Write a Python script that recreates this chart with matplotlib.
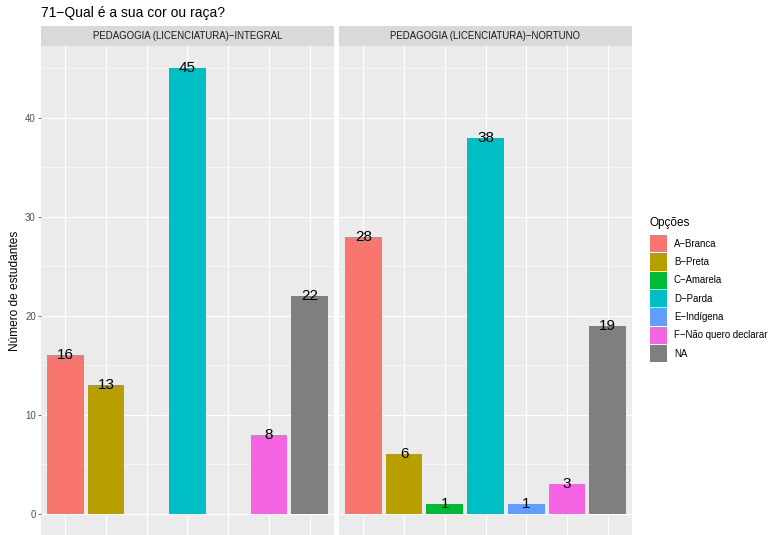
import matplotlib
matplotlib.use("Agg")
import matplotlib.pyplot as plt
from matplotlib.patches import Rectangle

plt.rcParams['font.family'] = ['Liberation Sans', 'DejaVu Sans']

# Dados
opcoes = ["A−Branca", "B−Preta", "C−Amarela", "D−Parda", "E−Indígena",
          "F−Não quero declarar", "NA"]
cores = ["#F8766D", "#B79F00", "#00BA38", "#00BFC4", "#619CFF", "#F564E3", "#7F7F7F"]
cursos = ["PEDAGOGIA (LICENCIATURA)−INTEGRAL", "PEDAGOGIA (LICENCIATURA)−NORTUNO"]
integral = [16, 13, None, 45, None, 8, 22]
noturno = [28, 6, 1, 38, 1, 3, 19]
valores = [integral, noturno]

W, H = 771, 535
fig = plt.figure(figsize=(W / 100, H / 100), dpi=100)


def caixa(x0, y0, x1, y1):
    # pixels (origem no topo) -> coordenadas da figura
    return [x0 / W, (H - y1) / H, (x1 - x0) / W, (y1 - y0) / H]


paineis = [(41, 334), (339, 632)]
for k, (xa, xb) in enumerate(paineis):
    ax = fig.add_axes(caixa(xa, 46, xb, 536))
    ax.set_facecolor("#EBEBEB")
    for s in ax.spines.values():
        s.set_visible(False)
    ax.set_xlim(0.4, 7.6)
    ax.set_ylim(-2.25, 47.25)
    ax.set_yticks([0, 10, 20, 30, 40])
    ax.set_yticks([5, 15, 25, 35, 45], minor=True)
    ax.set_xticks(range(1, 8))
    ax.grid(which="major", color="white", linewidth=0.8)
    ax.grid(which="minor", axis="y", color="white", linewidth=0.4)
    ax.set_axisbelow(True)
    ax.tick_params(axis="x", length=0, labelbottom=False)
    ax.tick_params(axis="y", which="minor", length=0)
    if k == 0:
        ax.tick_params(axis="y", which="major", length=2.2, width=0.5,
                       color="#333333", labelcolor="#4D4D4D", labelsize=6.9, pad=1.5)
    else:
        ax.tick_params(axis="y", which="major", length=0, labelleft=False)

    for i, v in enumerate(valores[k]):
        if v is None:
            continue
        ax.bar(i + 1, v, width=0.9, color=cores[i], zorder=2)
        ax.text(i + 1, v, str(v), ha="center", va="center", fontsize=11,
                color="black", zorder=3)

    # faixa do painel
    st = fig.add_axes(caixa(xa, 26, xb, 46))
    st.set_facecolor("#D9D9D9")
    st.set_xticks([])
    st.set_yticks([])
    for s in st.spines.values():
        s.set_visible(False)
    st.text(0.5, 0.5, cursos[k], ha="center", va="center", fontsize=6.9,
            color="#1A1A1A", transform=st.transAxes)

fig.text(41 / W, 1 - 17 / H, "71−Qual é a sua cor ou raça?", fontsize=10,
         ha="left", va="baseline", color="black")
fig.text(15 / W, 1 - 291 / H, "Número de estudantes", rotation=90, fontsize=8.6,
         ha="center", va="center", color="black")

# legenda
fig.text(650 / W, 1 - 223 / H, "Opções", fontsize=8.5, ha="left", va="center")
for i, nome in enumerate(opcoes):
    y0 = 235 + i * 18.33
    r = Rectangle(((650) / W, (H - y0 - 17.3) / H), 17.3 / W, 17.3 / H,
                  transform=fig.transFigure, facecolor=cores[i], edgecolor="none")
    fig.add_artist(r)
    fig.text(674 / W, 1 - (y0 + 8.6) / H, nome, fontsize=6.9, ha="left",
             va="center", color="black")

fig.savefig("out.png", dpi=100)
